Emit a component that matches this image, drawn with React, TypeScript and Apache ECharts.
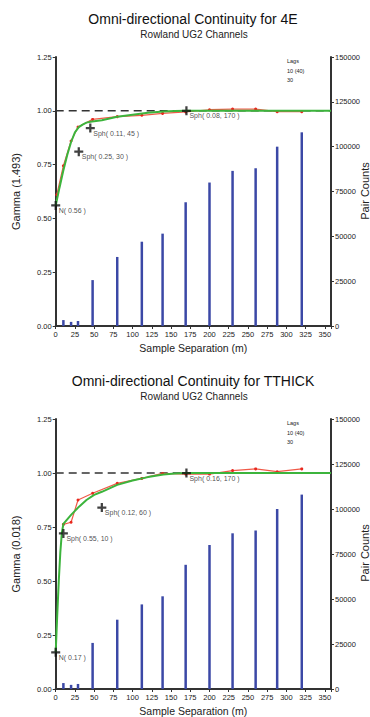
import React, { useEffect, useRef } from "react";
import * as echarts from "echarts";

// ---- data ----
const lags = [10, 20, 29, 48, 80, 112, 139, 169, 200, 230, 260, 288, 320];
const pairCounts = [3300, 2300, 2800, 25600, 38500, 47000, 51500, 69000, 80000, 86500, 88000, 100000, 108000];

const expLags4E = [1.5, 10, 20, 29, 48, 80, 112, 139, 169, 200, 230, 260, 288, 320];
const expGamma4E = [0.61, 0.745, 0.86, 0.925, 0.96, 0.973, 0.979, 0.988, 0.995, 1.005, 1.008, 1.008, 0.996, 0.996];
const modelX4E = [0, 5, 10, 15, 20, 25, 30, 35, 40, 45, 60, 80, 100, 120, 140, 155, 170, 358];
const modelG4E = [0.56, 0.644, 0.724, 0.795, 0.855, 0.9, 0.924, 0.936, 0.945, 0.949, 0.956, 0.972, 0.982, 0.991, 0.997, 0.999, 1.0, 1.0];
const markX4E = [0, 30, 45, 170];
const markG4E = [0.56, 0.81, 0.92, 1.0];
const markLbl4E = ["N( 0.56 )", "Sph( 0.25, 30 )", "Sph( 0.11, 45 )", "Sph( 0.08, 170 )"];

const expLagsTT = [10, 20, 29, 48, 80, 112, 139, 169, 200, 230, 260, 288, 320];
const expGammaTT = [0.762, 0.772, 0.875, 0.906, 0.952, 0.975, 0.998, 0.995, 0.995, 1.011, 1.019, 1.006, 1.019];
const modelXTT = [0, 2, 4, 6, 8, 10, 20, 30, 40, 50, 60, 80, 100, 120, 140, 155, 170, 358];
const modelGTT = [0.17, 0.342, 0.5, 0.632, 0.724, 0.764, 0.806, 0.843, 0.875, 0.899, 0.913, 0.945, 0.965, 0.981, 0.993, 0.998, 1.0, 1.0];
const markXTT = [0, 10, 60, 170];
const markGTT = [0.17, 0.72, 0.84, 1.0];
const markLblTT = ["N( 0.17 )", "Sph( 0.55, 10 )", "Sph( 0.12, 60 )", "Sph( 0.16, 170 )"];

const titles = ["Omni-directional Continuity for 4E", "Omni-directional Continuity for TTHICK"];
const subtitle = "Rowland UG2 Channels";
const gammaNames = ["Gamma (1.493)", "Gamma (0.018)"];
const pairName = "Pair Counts";
const lagsText = ["Lags", "10 (40)", "30"];

const FONT = "Liberation Sans, Arial, sans-serif";
const AXIS = "#333333";

export default function App() {
  const ref = useRef<HTMLDivElement>(null);
  useEffect(() => {
    if (!ref.current) return;
    const chart = echarts.init(ref.current, undefined, { renderer: "svg" });

    const grids = [
      { left: 55.7, top: 57, width: 275.3, height: 269 },
      { left: 55.7, top: 419, width: 275.3, height: 270 },
    ];
    const axisLine = { show: true, lineStyle: { color: AXIS, width: 2 } };
    const axisTick = { show: true, length: 3, lineStyle: { color: AXIS, width: 1 } };
    const lbl = { fontSize: 7.5, color: "#222", fontFamily: FONT };

    const xAxes = grids.map((_, i) => ({
      type: "value",
      gridIndex: i,
      min: 0,
      max: 358,
      interval: 25,
      name: "Sample Separation (m)",
      nameLocation: "middle",
      nameGap: 16,
      nameTextStyle: { fontSize: 10.5, color: "#222", fontFamily: FONT },
      axisLine,
      axisTick,
      splitLine: { show: false },
      axisLabel: { ...lbl, margin: 4, formatter: (v: number) => (v % 25 === 0 ? String(v) : "") },
    }));

    const yAxes: any[] = [];
    grids.forEach((_, i) => {
      yAxes.push({
        type: "value",
        gridIndex: i,
        min: 0,
        max: 1.25,
        interval: 0.25,
        position: "left",
        name: gammaNames[i],
        nameLocation: "middle",
        nameGap: 34,
        nameRotate: 90,
        nameTextStyle: { fontSize: 11, color: "#222", fontFamily: FONT },
        axisLine,
        axisTick,
        splitLine: { show: false },
        axisLabel: { ...lbl, margin: 4, formatter: (v: number) => v.toFixed(2) },
      });
      yAxes.push({
        type: "value",
        gridIndex: i,
        min: 0,
        max: 150000,
        interval: 25000,
        position: "right",
        axisLine,
        axisTick,
        splitLine: { show: false },
        axisLabel: { ...lbl, margin: 4, formatter: (v: number) => String(v) },
      });
    });

    const sets = [
      { ex: expLags4E, eg: expGamma4E, mx: modelX4E, mg: modelG4E, kx: markX4E, kg: markG4E, kl: markLbl4E },
      { ex: expLagsTT, eg: expGammaTT, mx: modelXTT, mg: modelGTT, kx: markXTT, kg: markGTT, kl: markLblTT },
    ];

    const series: any[] = [];
    sets.forEach((s, i) => {
      series.push({
        type: "bar",
        xAxisIndex: i,
        yAxisIndex: i * 2 + 1,
        barWidth: 2.5,
        itemStyle: { color: "#3b48a6" },
        data: lags.map((x, k) => [x, pairCounts[k]]),
        z: 1,
      });
      series.push({
        type: "line",
        xAxisIndex: i,
        yAxisIndex: i * 2,
        data: [[0, 1], [358, 1]],
        symbol: "none",
        lineStyle: { color: "#333", width: 1.5, type: [8, 5] },
        z: 2,
      });
      series.push({
        type: "line",
        xAxisIndex: i,
        yAxisIndex: i * 2,
        data: s.ex.map((x, k) => [x, s.eg[k]]),
        symbol: "circle",
        symbolSize: 3,
        itemStyle: { color: "#e8281e" },
        lineStyle: { color: "#f05a48", width: 1.2 },
        z: 3,
      });
      series.push({
        type: "line",
        xAxisIndex: i,
        yAxisIndex: i * 2,
        data: s.mx.map((x, k) => [x, s.mg[k]]),
        symbol: "none",
        lineStyle: { color: "#3cb43c", width: 2 },
        z: 4,
      });
      series.push({
        type: "scatter",
        xAxisIndex: i,
        yAxisIndex: i * 2,
        symbol: "path://M3,0H5V3H8V5H5V8H3V5H0V3H3Z",
        symbolSize: 9,
        itemStyle: { color: "#111" },
        data: s.kx.map((x, k) => ({ value: [x, s.kg[k]], name: s.kl[k] })),
        label: {
          show: true,
          position: [7.5, 6],
          align: "left",
          verticalAlign: "top",
          formatter: (p: any) => p.name,
          fontSize: 7,
          fontFamily: FONT,
          color: "#1a1a1a",
        },
        z: 5,
      });
    });

    const graphic: any[] = [];
    [0, 362].forEach((dy, i) => {
      graphic.push({
        type: "text",
        x: 193,
        y: 18.5 + dy,
        style: { text: titles[i], font: `14px ${FONT}`, fill: "#111", align: "center", verticalAlign: "middle" },
      });
      graphic.push({
        type: "text",
        x: 194,
        y: 34 + dy,
        style: { text: subtitle, font: `10px ${FONT}`, fill: "#222", align: "center", verticalAlign: "middle" },
      });
      graphic.push({
        type: "text",
        x: 364.5,
        y: 191 + dy,
        rotation: Math.PI / 2,
        style: { text: pairName, font: `11px ${FONT}`, fill: "#222", align: "center", verticalAlign: "middle" },
      });
      lagsText.forEach((t, k) => {
        graphic.push({
          type: "text",
          x: 287,
          y: 61 + k * 9.5 + dy,
          style: { text: t, font: `5.5px ${FONT}`, fill: "#222", align: "left", verticalAlign: "middle" },
        });
      });
    });

    chart.setOption({
      animation: false,
      backgroundColor: "#fff",
      grid: grids,
      xAxis: xAxes,
      yAxis: yAxes,
      series,
      graphic,
    });
    return () => chart.dispose();
  }, []);

  return (
    <div
      ref={ref}
      style={{ position: "absolute", left: 0, top: 0, width: 370, height: 717, background: "#fff" }}
    />
  );
}
